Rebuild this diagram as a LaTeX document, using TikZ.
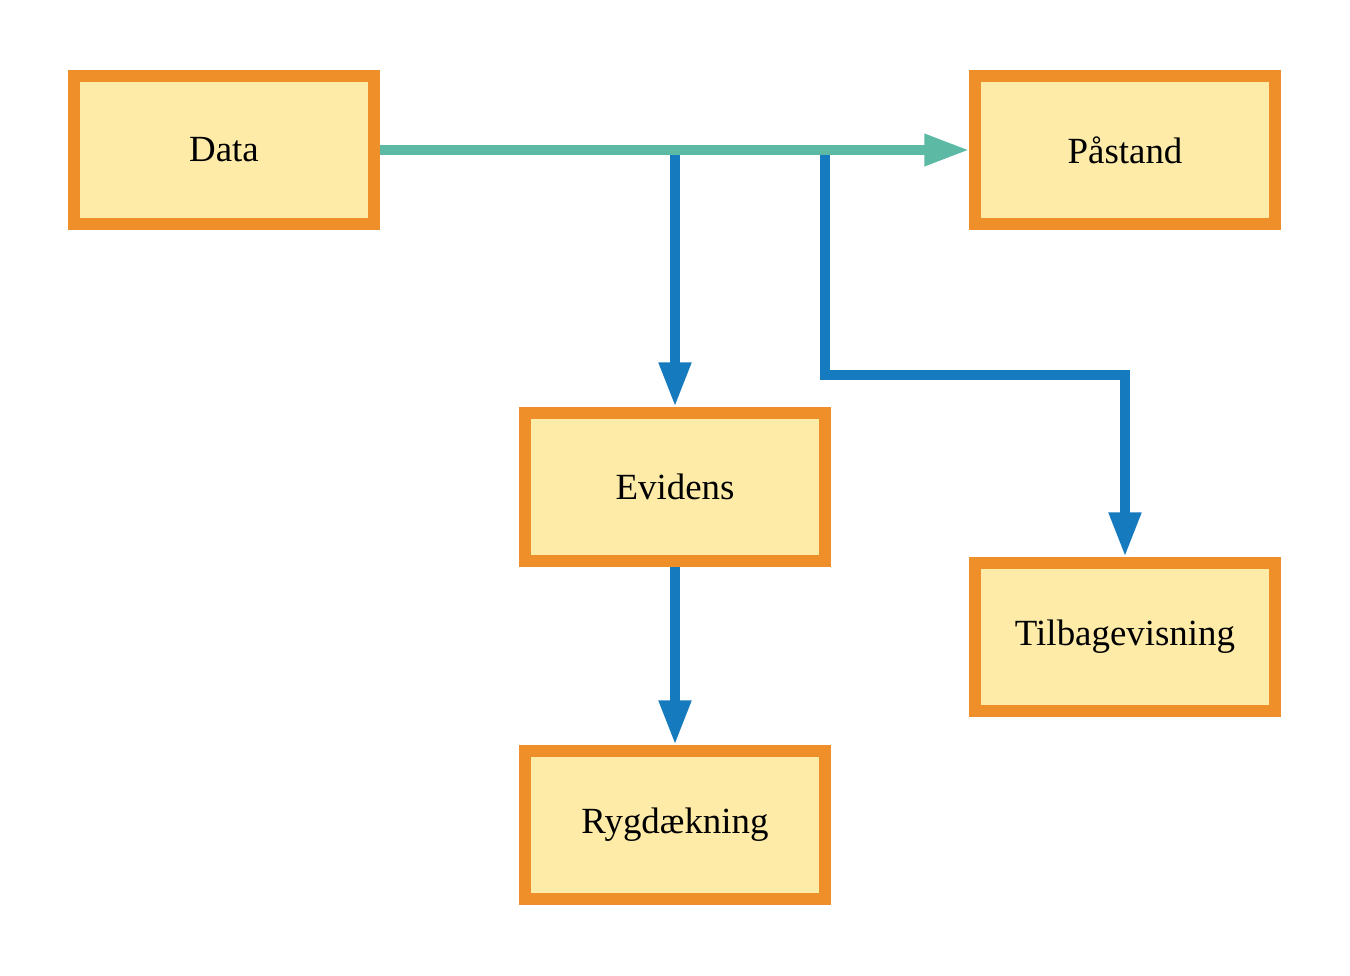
\documentclass[tikz,border=0pt]{standalone}
\usepackage{fontspec}
\setmainfont{Liberation Serif}
\usetikzlibrary{arrows.meta}
\definecolor{boxorange}{RGB}{238,143,42}
\definecolor{boxfill}{RGB}{254,235,168}
\definecolor{linkteal}{RGB}{91,185,164}
\definecolor{linkblue}{RGB}{22,122,190}
\begin{document}
\begin{tikzpicture}[x=0.02cm,y=-0.02cm]
	\tikzstyle{tbox}=[rectangle,draw=boxorange,fill=boxfill,line width=6.5pt,minimum width=6cm,minimum height=2.96cm,inner sep=0pt,font=\fontsize{21}{25}\selectfont]
	\tikzstyle{mainlink}=[draw=linkteal,line width=5.5pt,-{Triangle[length=0.9cm,width=0.6cm]}]
	\tikzstyle{sublink}=[draw=linkblue,line width=6pt,-{Triangle[length=0.9cm,width=0.6cm]}]
	\useasboundingbox (0,0) rectangle (1350,975);
	\node[tbox] (data) at (224,150) {Data};
	\node[tbox] (claim) at (1125,150) {Påstand};
	\node[tbox] (evidence) at (675,487) {Evidens};
	\node[tbox] (rebuttal) at (1125,637) {Tilbagevisning};
	\node[tbox] (backing) at (675,825) {Rygdækning};
	\coordinate (split-a) at (675,150);
	\coordinate (split-b) at (825,150);
	\draw[sublink] (split-a) -> (evidence);
	\draw[sublink] (split-b) -- (825,375) -| (rebuttal);
	\draw[sublink] (evidence) -> (backing);
	\draw[mainlink] (data) -> (claim);
\end{tikzpicture}
\end{document}
